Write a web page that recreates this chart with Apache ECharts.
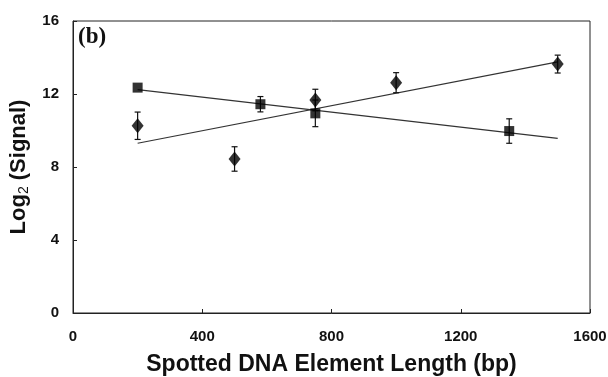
<!DOCTYPE html>
<html>
<head>
<meta charset="utf-8">
<script src="https://cdn.jsdelivr.net/npm/echarts@6/dist/echarts.min.js"></script>
<style>
  html, body { margin: 0; padding: 0; background: #fff; }
  #chart { width: 608px; height: 377px; }
</style>
</head>
<body>
<div id="chart"></div>
<script>
// Spotted element length (bp) vs log2 signal, two probe sets
const squareLength = [200, 580, 750, 1350];
const squareSignal = [12.35, 11.44, 10.94, 9.97];
const squareError  = [0.0, 0.42, 0.73, 0.67];

const diamondLength = [200, 500, 750, 1000, 1500];
const diamondSignal = [10.26, 8.44, 11.67, 12.62, 13.64];
const diamondError  = [0.75, 0.67, 0.59, 0.55, 0.49];

const xTicks = [0, 400, 800, 1200, 1600];
const yTicks = [0, 4, 8, 12, 16];

// Least-squares linear fit, evaluated at the given x positions
function linearFit(xs, ys, xEnds) {
  const n = xs.length;
  const mx = xs.reduce((a, b) => a + b, 0) / n;
  const my = ys.reduce((a, b) => a + b, 0) / n;
  let sxx = 0, sxy = 0;
  for (let i = 0; i < n; i++) {
    sxx += (xs[i] - mx) * (xs[i] - mx);
    sxy += (xs[i] - mx) * (ys[i] - my);
  }
  const slope = sxy / sxx;
  return xEnds.map(x => [x, my + slope * (x - mx)]);
}

const fitEnds = [200, 1500];
const squareFit = linearFit(squareLength, squareSignal, fitEnds);
const diamondFit = linearFit(diamondLength, diamondSignal, fitEnds);

function errorData(xs, ys, es) {
  return xs.map((x, i) => [x, ys[i] - es[i], ys[i] + es[i]]);
}

function renderErrorBar(params, api) {
  const lo = api.coord([api.value(0), api.value(1)]);
  const hi = api.coord([api.value(0), api.value(2)]);
  const cap = 3;
  const style = { stroke: '#111', lineWidth: 1.2 };
  return {
    type: 'group',
    children: [
      { type: 'line', shape: { x1: lo[0], y1: lo[1], x2: hi[0], y2: hi[1] }, style },
      { type: 'line', shape: { x1: lo[0] - cap, y1: lo[1], x2: lo[0] + cap, y2: lo[1] }, style },
      { type: 'line', shape: { x1: hi[0] - cap, y1: hi[1], x2: hi[0] + cap, y2: hi[1] }, style }
    ]
  };
}

const tickFont = { color: '#111', fontFamily: 'Liberation Sans', fontWeight: 'bold', fontSize: 15 };
const axisLineStyle = { show: true, lineStyle: { color: '#222', width: 1 } };

const chart = echarts.init(document.getElementById('chart'), null, { renderer: 'canvas' });
chart.setOption({
  animation: false,
  backgroundColor: '#fff',
  grid: {
    left: 73, right: 18, top: 21, bottom: 64,
    outerBoundsMode: 'none',
    show: true, borderColor: '#222', borderWidth: 1, backgroundColor: 'transparent'
  },
  xAxis: {
    type: 'value',
    min: xTicks[0], max: xTicks[xTicks.length - 1], interval: 400,
    axisLine: axisLineStyle,
    axisTick: { show: true, inside: true, length: 4, lineStyle: { color: '#222' } },
    splitLine: { show: false },
    axisLabel: Object.assign({ margin: 16, formatter: v => String(v) }, tickFont),
    name: 'Spotted DNA Element Length (bp)',
    nameLocation: 'middle',
    nameGap: 40,
    nameTextStyle: { color: '#111', fontFamily: 'Liberation Sans', fontWeight: 'bold', fontSize: 23 }
  },
  yAxis: {
    type: 'value',
    min: yTicks[0], max: yTicks[yTicks.length - 1], interval: 4,
    axisLine: axisLineStyle,
    axisTick: { show: true, inside: true, length: 4, lineStyle: { color: '#222' } },
    splitLine: { show: false },
    axisLabel: Object.assign({ margin: 14, formatter: v => String(v) }, tickFont),
    name: 'Log{sub|2} (Signal)',
    nameLocation: 'middle',
    nameRotate: 90,
    nameGap: 36,
    nameTextStyle: {
      color: '#111', fontFamily: 'Liberation Sans', fontWeight: 'bold', fontSize: 22,
      rich: {
        sub: { fontFamily: 'Liberation Sans', fontWeight: 'normal', fontSize: 14, verticalAlign: 'bottom', padding: [10, 0, 0, 0], color: '#111' }
      }
    }
  },
  graphic: [{
    type: 'text', left: 78, top: 26,
    style: { text: '(b)', fontFamily: 'Liberation Serif', fontWeight: 'bold', fontSize: 23, fill: '#111' }
  }],
  series: [
    {
      type: 'line', data: squareFit, showSymbol: false, z: 2,
      lineStyle: { color: '#333', width: 1.2 }
    },
    {
      type: 'line', data: diamondFit, showSymbol: false, z: 2,
      lineStyle: { color: '#333', width: 1.2 }
    },
    {
      type: 'custom', renderItem: renderErrorBar, z: 3,
      data: errorData(squareLength, squareSignal, squareError).filter(d => d[2] > d[1])
    },
    {
      type: 'custom', renderItem: renderErrorBar, z: 3,
      data: errorData(diamondLength, diamondSignal, diamondError)
    },
    {
      type: 'scatter', symbol: 'rect', symbolSize: 10, z: 4,
      itemStyle: { color: '#000' },
      data: squareLength.map((x, i) => [x, squareSignal[i]])
    },
    {
      type: 'scatter', symbol: 'diamond', symbolSize: [12, 15], z: 4,
      itemStyle: { color: '#000' },
      data: diamondLength.map((x, i) => [x, diamondSignal[i]])
    }
  ]
});
</script>
</body>
</html>
